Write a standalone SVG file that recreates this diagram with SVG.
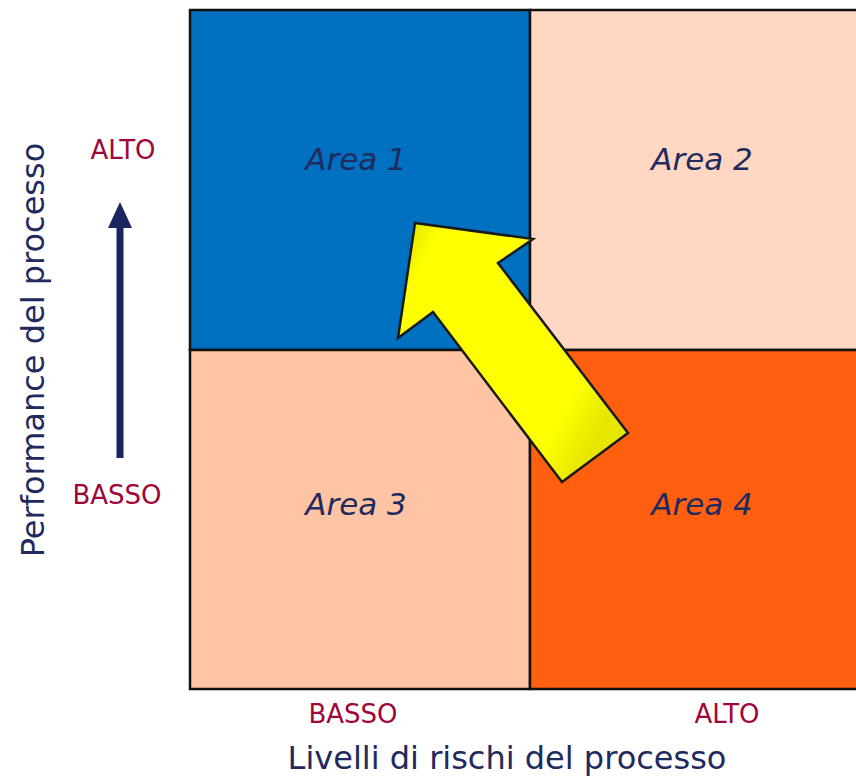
<svg xmlns="http://www.w3.org/2000/svg" width="856" height="779" viewBox="0 0 856 779">
<style>
.cell{stroke:#111;stroke-width:2.5}
.area{font-family:"DejaVu Sans",Verdana,sans-serif;font-style:italic;font-size:31px;fill:#1F2A5E;text-anchor:middle}
.lvl{font-family:"DejaVu Sans",Verdana,sans-serif;font-size:26px;fill:#A0063A;text-anchor:middle}
.axis{font-family:"DejaVu Sans",Verdana,sans-serif;font-size:32px;fill:#1F2A5E;text-anchor:middle}
</style>
<defs>
<linearGradient id="yg" x1="0" y1="0" x2="1" y2="0.6">
<stop offset="0" stop-color="#D8D800"/>
<stop offset="0.15" stop-color="#FFFF00"/>
<stop offset="0.85" stop-color="#FFFF00"/>
<stop offset="1" stop-color="#E6E600"/>
</linearGradient>
</defs>
<rect width="856" height="779" fill="#fff"/>
<g id="area1"><rect class="cell" x="190" y="10" width="340" height="340" fill="#0070C0"/><text class="area" x="356" y="170">Area 1</text></g>
<g id="area2"><rect class="cell" x="530" y="10" width="330" height="340" fill="#FFD7C3"/><text class="area" x="702" y="170">Area 2</text></g>
<g id="area3"><rect class="cell" x="190" y="350" width="340" height="339" fill="#FFC4A3"/><text class="area" x="356" y="515">Area 3</text></g>
<g id="area4"><rect class="cell" x="530" y="350" width="330" height="339" fill="#FF5F0F"/><text class="area" x="702" y="515">Area 4</text></g>
<g id="connectors">
<g id="big-arrow"><polygon points="415,223 533,239 498,263 628,433 562,482 433,312 398,338" fill="url(#yg)" stroke="#1a1a1a" stroke-width="2.5" stroke-linejoin="miter"/></g>
<g id="perf-arrow"><line x1="120" y1="458" x2="120" y2="225" stroke="#1B2660" stroke-width="7"/><polygon points="120,202 108,228 132,228" fill="#1B2660"/></g>
</g>
<g id="labels">
<text class="lvl" x="123" y="159">ALTO</text>
<text class="lvl" x="117" y="504">BASSO</text>
<text class="lvl" x="353" y="723">BASSO</text>
<text class="lvl" x="727" y="723">ALTO</text>
<text class="axis" x="507" y="769">Livelli di rischi del processo</text>
<text class="axis" transform="translate(44,350) rotate(-90)">Performance del processo</text>
</g>
</svg>
